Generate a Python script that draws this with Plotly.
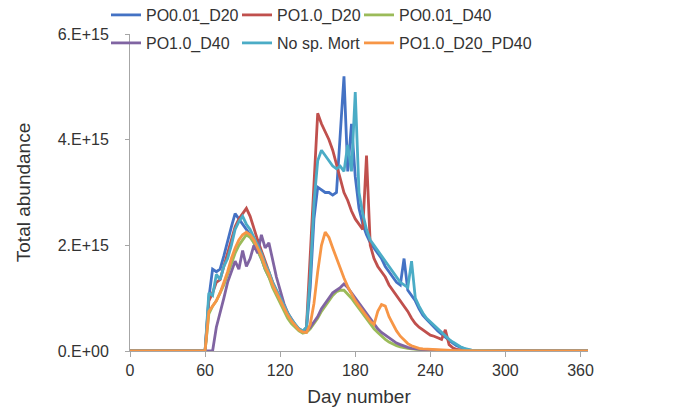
import plotly.graph_objects as go

# x categories: day number (day 0, grid days 57..273 step 3, then 300/330/366)
days = [0] + list(range(57, 274, 3)) + [300, 330, 366]

# values in units of 1E15
po001_d20 = [0,
    0, 0, 1.0, 1.55, 1.5, 1.55, 1.8, 2.1, 2.35, 2.6,
    2.5, 2.4, 2.3, 2.2, 2.05, 1.9, 1.75, 1.55, 1.4, 1.25,
    1.1, 0.95, 0.8, 0.68, 0.55, 0.48, 0.4, 0.36, 0.42, 1.2,
    2.5, 3.1, 3.05, 3.0, 3.0, 2.95, 3.0, 4.2, 5.2, 3.4,
    4.3, 3.3, 2.7, 2.4, 2.2, 2.05, 1.95, 1.85, 1.75, 1.6,
    1.5, 1.4, 1.3, 1.25, 1.75, 1.15, 1.05, 0.95, 0.8, 0.68,
    0.6, 0.52, 0.45, 0.38, 0.32, 0.26, 0.2, 0.15, 0.1, 0.07,
    0.04, 0.02, 0.01,
    0.003, 0.002, 0.002]

po10_d20 = [0,
    0, 0, 0.95, 1.1, 1.3, 1.35, 1.6, 1.85, 2.1, 2.35,
    2.5, 2.6, 2.7, 2.55, 2.3, 2.1, 1.9, 1.7, 1.5, 1.3,
    1.15, 1.0, 0.85, 0.7, 0.58, 0.48, 0.4, 0.35, 0.45, 1.8,
    3.2, 4.5, 4.3, 4.15, 4.0, 3.8, 3.55, 3.3, 3.0, 2.85,
    2.65, 2.5, 2.4, 2.3, 3.7, 2.0, 1.75, 1.6, 1.5, 1.4,
    1.25, 1.15, 1.05, 0.95, 0.85, 0.75, 0.62, 0.52, 0.45, 0.4,
    0.35, 0.3, 0.28, 0.25, 0.22, 0.4, 0.12, 0.06, 0.03, 0.02,
    0.01, 0.008, 0.006,
    0.003, 0.002, 0.002]

po001_d40 = [0,
    0, 0, 0.7, 0.85, 0.95, 1.1, 1.25, 1.45, 1.65, 1.85,
    2.0, 2.1, 2.2, 2.15, 2.05, 1.9, 1.75, 1.55, 1.4, 1.2,
    1.05, 0.9, 0.75, 0.62, 0.52, 0.44, 0.38, 0.34, 0.35, 0.42,
    0.52, 0.62, 0.75, 0.85, 0.95, 1.05, 1.12, 1.15, 1.15, 1.08,
    1.0, 0.9, 0.8, 0.7, 0.6, 0.5, 0.42, 0.35, 0.28, 0.22,
    0.17, 0.13, 0.1, 0.08, 0.06, 0.05, 0.04, 0.03, 0.025, 0.02,
    0.018, 0.015, 0.012, 0.01, 0.008, 0.007, 0.006, 0.005, 0.005, 0.004,
    0.004, 0.004, 0.004,
    0.003, 0.002, 0.002]

po10_d40 = [0,
    0, 0, 0, 0, 0.45, 0.7, 1.0, 1.3, 1.5, 1.7,
    1.55, 1.9, 1.6, 1.75, 2.0, 1.85, 2.2, 1.95, 2.05, 1.7,
    1.4, 1.15, 0.9, 0.72, 0.6, 0.5, 0.42, 0.38, 0.38, 0.45,
    0.55, 0.65, 0.8, 0.9, 1.0, 1.1, 1.15, 1.2, 1.27, 1.2,
    1.1, 1.0, 0.9, 0.8, 0.7, 0.6, 0.5, 0.42, 0.35, 0.3,
    0.25, 0.2, 0.15, 0.12, 0.09, 0.07, 0.05, 0.04, 0.03, 0.025,
    0.02, 0.018, 0.015, 0.012, 0.01, 0.008, 0.007, 0.006, 0.005, 0.005,
    0.004, 0.004, 0.004,
    0.003, 0.002, 0.002]

no_sp_mort = [0,
    0, 0, 1.1, 1.05, 1.45, 1.35, 1.6, 1.75, 2.0, 2.3,
    2.45, 2.55, 2.4, 2.3, 2.15, 2.0, 1.85, 1.65, 1.5, 1.3,
    1.15, 1.0, 0.85, 0.72, 0.6, 0.5, 0.42, 0.38, 0.45, 1.4,
    2.8, 3.6, 3.8, 3.7, 3.6, 3.5, 3.45, 3.5, 3.4, 3.9,
    3.4, 4.9, 3.0, 2.6, 2.3, 2.1, 2.0, 1.9, 1.8, 1.7,
    1.6, 1.5, 1.4, 1.3, 1.25, 1.2, 1.7, 1.0, 0.85, 0.72,
    0.62, 0.55, 0.48, 0.42, 0.35, 0.28, 0.22, 0.17, 0.12, 0.08,
    0.05, 0.03, 0.015,
    0.003, 0.002, 0.002]

po10_d20_pd40 = [0,
    0, 0, 0.75, 0.85, 0.95, 1.1, 1.3, 1.5, 1.75, 1.95,
    2.1, 2.2, 2.25, 2.2, 2.1, 1.95, 1.8, 1.6, 1.45, 1.25,
    1.1, 0.95, 0.8, 0.68, 0.57, 0.48, 0.4, 0.36, 0.35, 0.5,
    0.9, 1.5, 2.0, 2.25, 2.15, 1.95, 1.75, 1.55, 1.38, 1.22,
    1.08, 0.95, 0.85, 0.75, 0.65, 0.56, 0.5, 0.75, 0.88, 0.85,
    0.65, 0.5, 0.38, 0.28, 0.2, 0.14, 0.1, 0.07, 0.05, 0.04,
    0.035, 0.03, 0.025, 0.02, 0.018, 0.015, 0.012, 0.01, 0.008, 0.007,
    0.006, 0.005, 0.005,
    0.004, 0.003, 0.003]

x_ticks = [0, 60, 120, 180, 240, 300, 360]
y_ticks = [0, 2e15, 4e15, 6e15]
y_tick_text = ["0.E+00", "2.E+15", "4.E+15", "6.E+15"]

series = [
    ("PO0.01_D20", po001_d20, "#4472C4"),
    ("PO1.0_D20", po10_d20, "#C0504D"),
    ("PO0.01_D40", po001_d40, "#9BBB59"),
    ("PO1.0_D40", po10_d40, "#8064A2"),
    ("No sp. Mort", no_sp_mort, "#4BACC6"),
    ("PO1.0_D20_PD40", po10_d20_pd40, "#F79646"),
]

# legend slot (column x, row y) in container pixels
col_x = [98, 229, 351]
row_y = [7, 35]

fig = go.Figure()
legends = {}
for i, (name, vals, color) in enumerate(series):
    key = "legend" if i == 0 else "legend%d" % (i + 1)
    fig.add_trace(go.Scatter(
        x=days, y=[v * 1e15 for v in vals], mode="lines", name=name,
        line=dict(color=color, width=2.8), legend=key, showlegend=True,
    ))
    legends[key] = dict(
        orientation="h", xref="container", yref="container",
        xanchor="left", yanchor="middle",
        x=col_x[i % 3] / 695, y=1 - row_y[i // 3] / 416,
        bgcolor="rgba(0,0,0,0)", font=dict(size=16, color="#333333"),
        itemwidth=30, visible=True,
    )

axis_col = "#a6a6a6"

fig.update_layout(
    width=695, height=416, showlegend=True,
    margin=dict(l=122, r=115, t=26, b=73, autoexpand=False),
    paper_bgcolor="white", plot_bgcolor="white",
    font=dict(family="Liberation Sans, Arial, sans-serif", size=16, color="#333333"),
    xaxis=dict(
        range=[0, 366], tickvals=x_ticks, showgrid=False, zeroline=False,
        showline=True, linecolor=axis_col, linewidth=1,
        ticks="outside", ticklen=5, tickcolor=axis_col,
        title=dict(text="Day number", standoff=11),
    ),
    yaxis=dict(
        range=[0, 6e15], tickvals=y_ticks, ticktext=y_tick_text,
        showgrid=False, zeroline=False,
        showline=True, linecolor=axis_col, linewidth=1,
        ticks="outside", ticklen=4, tickcolor=axis_col,
        ticklabelstandoff=13,
        title=dict(text="Total abundance", standoff=21),
    ),
    **legends,
)

fig.write_html("out.html")
